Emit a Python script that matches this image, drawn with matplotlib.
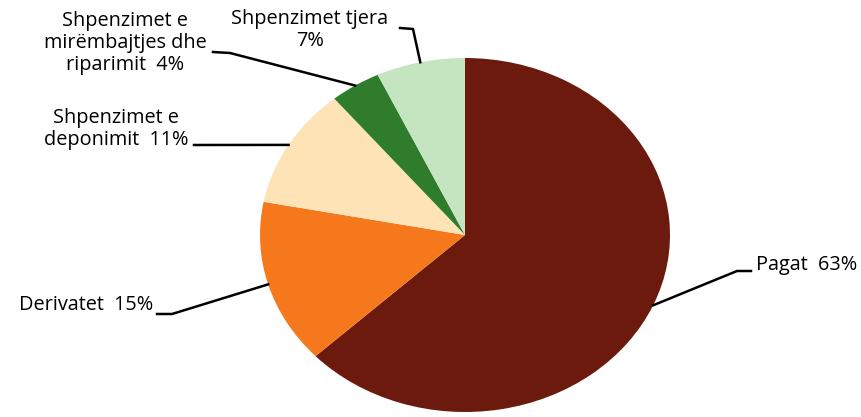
import numpy as np
import matplotlib.pyplot as plt
from matplotlib.lines import Line2D

# te dhenat
kategorite = ['Pagat', 'Derivatet', 'Shpenzimet e\ndeponimit', 'Shpenzimet e\nmirëmbajtjes dhe\nriparimit',
              'Shpenzimet tjera']
vlerat = [63, 15, 11, 4, 7]
etiketat = ['Pagat  63%', 'Derivatet  15%', 'Shpenzimet e\ndeponimit  11%',
            'Shpenzimet e\nmirëmbajtjes dhe\nriparimit  4%', 'Shpenzimet tjera\n7%']
ngjyrat = ['#6b1a0d', '#f5791c', '#fde3b6', '#2f7d2c', '#c4e5bf']

W, H = 862, 417
fig = plt.figure(figsize=(W / 100, H / 100), dpi=100)
plt.rcParams['font.family'] = ['Open Sans', 'DejaVu Sans']

# boshtet me permasat e elipses
ax = fig.add_axes([260 / W, 5 / H, 410 / W, 354 / H])
wedges, _ = ax.pie(vlerat, colors=ngjyrat, startangle=90, counterclock=False, radius=1)
ax.set_aspect('auto')
ax.set_xlim(-1, 1)
ax.set_ylim(-1, 1)

# pozicionet e etiketave (piksela, y nga lart): berryl, fund i vijes, teksti, rreshtimi
vendet = [
    ((737, 271), (751, 271), (756, 265), 'left'),
    ((172, 314), (157, 314), (153, 305), 'right'),
    ((194, 145), (194, 145), (116, 129), 'center'),
    ((230, 53), (213, 52), (125, 43), 'center'),
    ((413, 29), (400, 28), (310, 30), 'center'),
]

for w, etk, (bryl, fund, tx, ha) in zip(wedges, etiketat, vendet):
    mes = np.deg2rad((w.theta1 + w.theta2) / 2)
    px, py = ax.transData.transform((np.cos(mes), np.sin(mes)))
    xs = [px, bryl[0], fund[0]]
    ys = [py, H - bryl[1], H - fund[1]]
    fig.add_artist(Line2D(xs, ys, transform=None, color='black', lw=1.8))
    fig.text(tx[0] / W, 1 - tx[1] / H, etk, ha=ha, va='center', fontsize=14.3,
             linespacing=1.15, multialignment='center')

fig.savefig('out.png', dpi=100)
